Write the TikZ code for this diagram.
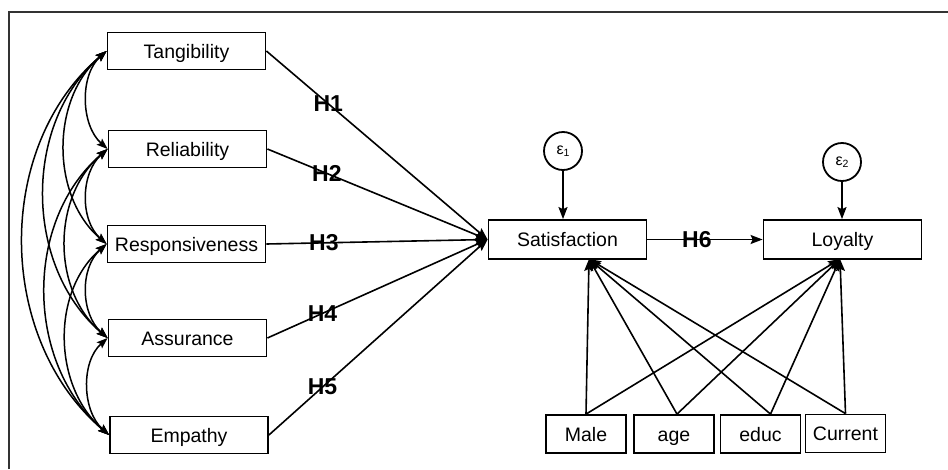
\documentclass[tikz,border=0pt]{standalone}
\usepackage{fontspec}
\setmainfont{Liberation Sans}
\usetikzlibrary{arrows.meta,calc}
\begin{document}
\begin{tikzpicture}[x=1pt,y=-1pt,
  box/.style={draw, line width=1.8pt, minimum width=158pt, minimum height=37pt, inner sep=0pt, text height=14pt, text depth=0pt, font=\fontsize{19.5}{20}\selectfont},
  sbox/.style={box, minimum width=80pt, minimum height=38pt},
  err/.style={draw, circle, line width=1.8pt, minimum size=38pt, inner sep=0pt, font=\fontsize{16}{16}\selectfont},
  arr/.style={line width=1.6pt, -{Stealth[length=12pt,width=9pt,inset=2pt]}},
  cov/.style={line width=1.5pt, {Stealth[length=11pt,width=8pt,inset=2pt]}-{Stealth[length=11pt,width=8pt,inset=2pt]}},
  hlab/.style={font=\fontsize{23}{23}\selectfont\bfseries, inner sep=0pt}
]
\useasboundingbox (0,0) rectangle (948,469);
\draw[line width=1.5pt, black!80] (9,469) -- (9,12) -- (948,12);

\node[box] (tan) at (186.5,51) {Tangibility};
\node[box] (rel) at (187.5,149) {Reliability};
\node[box] (res) at (186.5,244) {Responsiveness};
\node[box] (ass) at (187.5,338) {Assurance};
\node[box] (emp) at (189,435) {Empathy};
\node[box, minimum height=39pt] (sat) at (567.5,239.5) {Satisfaction};
\node[box, minimum height=39pt] (loy) at (842.5,239.5) {Loyalty};
\node[err] (e1) at (563,151) {ε\raisebox{-2pt}{\fontsize{10.5}{10.5}\selectfont 1}};
\node[err] (e2) at (842,162) {ε\raisebox{-2pt}{\fontsize{10.5}{10.5}\selectfont 2}};
\node[sbox] (male) at (586,434) {Male};
\node[sbox] (age) at (674,434) {age};
\node[sbox] (educ) at (760.5,434) {educ};
\node[sbox] (cur) at (845.5,433.5) {Current};

% hypotheses
\draw[arr] (tan.east) -- node[hlab,pos=0.28]{H1} (sat.west);
\draw[arr] (rel.east) -- node[hlab,pos=0.27]{H2} (sat.west);
\draw[arr] (res.east) -- node[hlab,pos=0.26]{H3} (sat.west);
\draw[arr] (ass.east) -- node[hlab,pos=0.25]{H4} (sat.west);
\draw[arr] (emp.east) -- node[hlab,pos=0.245]{H5} (sat.west);
\draw[arr] (sat.east) -- node[hlab,pos=0.43]{H6} (loy.west);

% errors
\draw[arr] (e1.south) -- (e1.south |- sat.north);
\draw[arr] (e2.south) -- (e2.south |- loy.north);

% covariates
\coordinate (sIn) at (589,259);
\coordinate (lIn) at (840,259);
\coordinate (mS) at ($(male.north)+(0,0)$);
\coordinate (aS) at ($(age.north)+(3,0)$);
\coordinate (dS) at ($(educ.north)+(10,0)$);
\coordinate (cS) at ($(cur.north)+(0,0)$);
\foreach \s in {mS,aS,dS,cS}{
  \draw[arr] (\s) -- (sIn);
  \draw[arr] (\s) -- (lIn);
}

% covariances
\draw[cov] (tan.west) .. controls +(-27,24) and +(-27,-24) .. (rel.west);
\draw[cov] (rel.west) .. controls +(-27,24) and +(-27,-24) .. (res.west);
\draw[cov] (res.west) .. controls +(-27,24) and +(-27,-24) .. (ass.west);
\draw[cov] (ass.west) .. controls +(-27,24) and +(-27,-24) .. (emp.west);
\draw[cov] (tan.west) .. controls +(-56,48) and +(-56,-48) .. (res.west);
\draw[cov] (rel.west) .. controls +(-56,48) and +(-56,-48) .. (ass.west);
\draw[cov] (res.west) .. controls +(-56,48) and +(-56,-48) .. (emp.west);
\draw[cov] (tan.west) .. controls +(-84,72) and +(-84,-72) .. (ass.west);
\draw[cov] (rel.west) .. controls +(-84,72) and +(-84,-72) .. (emp.west);
\draw[cov] (tan.west) .. controls +(-113,96) and +(-113,-96) .. (emp.west);
\end{tikzpicture}
\end{document}
